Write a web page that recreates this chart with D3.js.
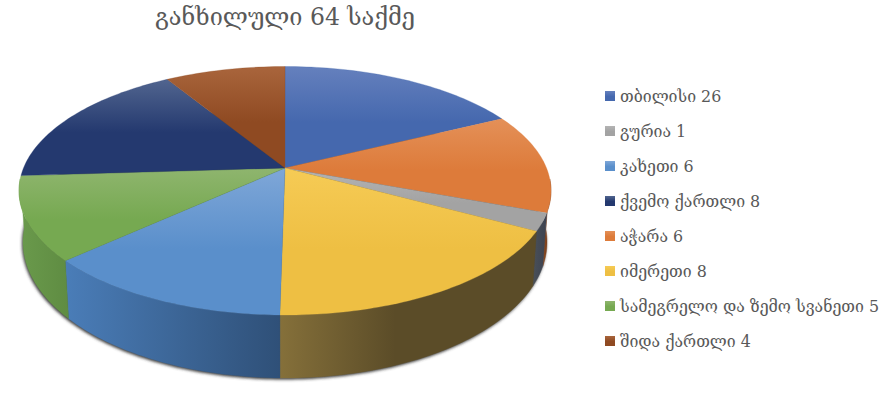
<!DOCTYPE html>
<html>
<head>
<meta charset="utf-8">
<script src="https://cdnjs.cloudflare.com/ajax/libs/d3/7.8.5/d3.min.js"></script>
<style>
  html, body { margin: 0; padding: 0; background: #fff; }
  svg { display: block; }
  text { font-family: "DejaVu Serif", serif; fill: #595959; }
</style>
</head>
<body>
<div id="chart"></div>
<script>
var width = 893, height = 395;

var title = 'განხილული 64 საქმე';

// legend order
var legendNames = ['თბილისი', 'გურია', 'კახეთი', 'ქვემო ქართლი', 'აჭარა', 'იმერეთი', 'სამეგრელო და ზემო სვანეთი', 'შიდა ქართლი'];
var legendCounts = [26, 1, 6, 8, 6, 8, 5, 4];

// clockwise order on the pie, the sizes do not follow the printed counts so they are read off the slices
var sliceNames = ['თბილისი', 'აჭარა', 'გურია', 'იმერეთი', 'კახეთი', 'სამეგრელო და ზემო სვანეთი', 'ქვემო ქართლი', 'შიდა ქართლი'];
var sliceSizes = [54.6, 45.7, 8.7, 72.1, 54.6, 41.3, 56.7, 26.3];

// top light, top base, side left, side right
var colors = {
  'თბილისი': ['#6580bd', '#4568ae', '#3a5a98', '#2c4a7c'],
  'გურია': ['#b4b4b4', '#a3a3a3', '#4a5058', '#3c4250'],
  'კახეთი': ['#7fa7d8', '#5a8fcb', '#4a7db8', '#2f5078'],
  'ქვემო ქართლი': ['#51658f', '#24396f', '#1f3160', '#1a2950'],
  'აჭარა': ['#e49058', '#dd7b3a', '#8a4a20', '#6b3518'],
  'იმერეთი': ['#f6cb55', '#eebf43', '#85703a', '#5b4c28'],
  'სამეგრელო და ზემო სვანეთი': ['#8fb56e', '#76a951', '#6a9a4c', '#5f8c42'],
  'შიდა ქართლი': ['#a9653c', '#8f4a22', '#6e3a1a', '#5e3216']
};

var svg = d3.select('#chart')
  .append('svg')
    .attr('width', width)
    .attr('height', height);

var defs = svg.append('defs');

// top face and bottom edge of the disc, unit circle mapped onto the page
var topX = d3.scaleLinear().domain([-1, 1]).range([19, 551]);
var topY = d3.scaleLinear().domain([-1, 1]).range([66.5, 315]);
var botX = d3.scaleLinear().domain([-1, 1]).range([23, 547]);
var botY = d3.scaleLinear().domain([-1, 1]).range([106, 378]);
var apex = [285, 168];

function rim(a, sx, sy) {
  return [sx(Math.sin(a)), sy(-Math.cos(a))];
}
function samples(a0, a1) {
  var n = Math.max(2, Math.ceil((a1 - a0) / 0.02));
  return d3.range(n + 1).map(function(i) { return a0 + (a1 - a0) * i / n; });
}

var line = d3.line();
var pie = d3.pie().sort(null).value(function(d, i) { return sliceSizes[i]; });
var slices = pie(sliceNames);

function idOf(name) { return 's' + sliceNames.indexOf(name); }

sliceNames.forEach(function(name) {
  var c = colors[name];
  var g = defs.append('linearGradient')
    .attr('id', 'top-' + idOf(name))
    .attr('x1', 0).attr('y1', 0).attr('x2', 0).attr('y2', 1);
  g.append('stop').attr('offset', '0%').attr('stop-color', c[0]);
  g.append('stop').attr('offset', '55%').attr('stop-color', c[1]);
  g.append('stop').attr('offset', '100%').attr('stop-color', c[1]);
});

defs.append('filter')
  .attr('id', 'blur')
  .attr('x', '-5%').attr('y', '-5%').attr('width', '110%').attr('height', '110%')
  .append('feGaussianBlur')
  .attr('stdDeviation', 1.6);

// shadow under the disc
svg.append('path')
  .attr('d', line(samples(0, 2 * Math.PI).map(function(a) { return rim(a, botX, botY); })) + 'Z')
  .attr('transform', 'translate(-1,1.5)')
  .attr('fill', '#3a3a3a')
  .attr('filter', 'url(#blur)');

// sides, only the front half can be seen
var lo = Math.PI * 0.47, hi = Math.PI * 1.53;
slices.forEach(function(d) {
  var a0 = Math.max(d.startAngle, lo), a1 = Math.min(d.endAngle, hi);
  if (a1 <= a0) return;
  var c = colors[d.data];
  var angles = samples(a0, a1);
  var upper = angles.map(function(a) { return rim(a, topX, topY); });
  var lower = angles.map(function(a) { return rim(a, botX, botY); }).reverse();
  var ext = d3.extent(upper.concat(lower), function(p) { return p[0]; });
  // yellow side runs dark soon after its left edge, blue darkens all the way to the right
  var g = defs.append('linearGradient')
    .attr('id', 'side-' + idOf(d.data))
    .attr('gradientUnits', 'userSpaceOnUse')
    .attr('x1', ext[0]).attr('x2', ext[1]).attr('y1', 0).attr('y2', 0);
  g.append('stop').attr('offset', '0%').attr('stop-color', c[2]);
  g.append('stop').attr('offset', d.data === 'იმერეთი' ? '45%' : '100%').attr('stop-color', c[3]);
  svg.append('path')
    .attr('d', line(upper.concat(lower)) + 'Z')
    .attr('fill', 'url(#side-' + idOf(d.data) + ')')
    .attr('stroke', 'url(#side-' + idOf(d.data) + ')')
    .attr('stroke-width', 0.4);
});

// top faces
svg.append('g').selectAll('path')
  .data(slices)
  .join('path')
    .attr('d', function(d) {
      var pts = samples(d.startAngle, d.endAngle).map(function(a) { return rim(a, topX, topY); });
      return line([apex].concat(pts)) + 'Z';
    })
    .attr('fill', function(d) { return 'url(#top-' + idOf(d.data) + ')'; })
    .attr('stroke', function(d) { return colors[d.data][1]; })
    .attr('stroke-width', 0.3);

// title
svg.append('text')
  .attr('x', 285)
  .attr('y', 25)
  .attr('text-anchor', 'middle')
  .style('font-size', '23.5px')
  .text(title);

// legend
var legendY = d3.scalePoint().domain(legendNames).range([96, 341]);

var legend = svg.append('g').selectAll('g')
  .data(legendNames)
  .join('g')
    .attr('transform', function(d) { return 'translate(605,' + legendY(d) + ')'; });

legend.append('rect')
  .attr('x', 0)
  .attr('y', -5)
  .attr('width', 10)
  .attr('height', 10)
  .attr('fill', function(d) { return 'url(#top-' + idOf(d) + ')'; });

legend.append('text')
  .attr('x', 15)
  .attr('y', 5.5)
  .style('font-size', '15.9px')
  .text(function(d, i) { return d + ' ' + legendCounts[i]; });
</script>
</body>
</html>
